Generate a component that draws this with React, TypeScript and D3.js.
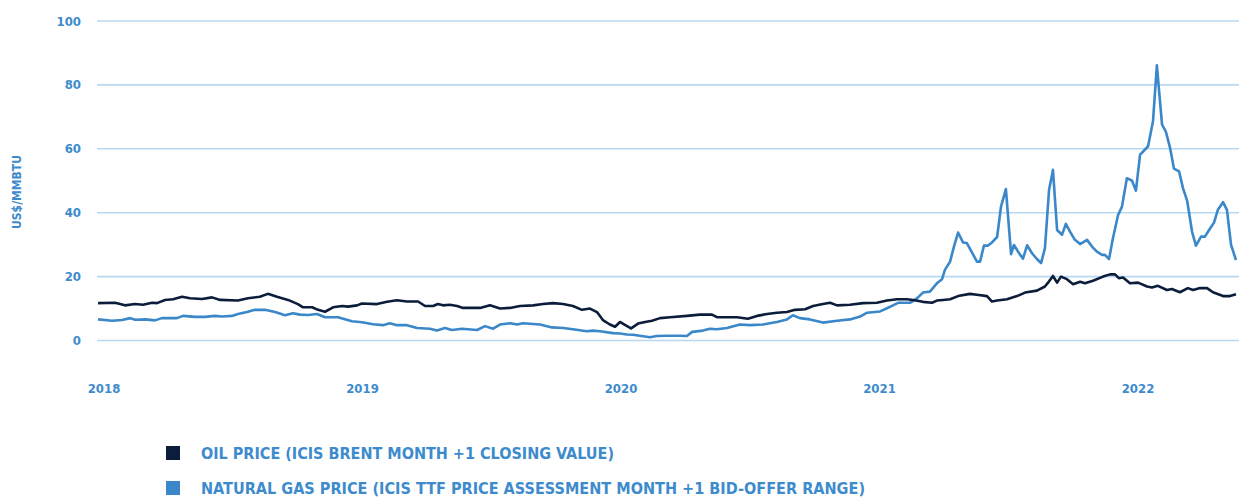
import React from "react";
import * as d3 from "d3";

// decimal years on x, US$/MMBTU on y
const oilDates = [
  2017.977, 2018.043, 2018.081, 2018.12, 2018.151, 2018.186, 2018.205, 2018.236, 2018.267, 2018.302,
  2018.333, 2018.379, 2018.418, 2018.449, 2018.518, 2018.557, 2018.603, 2018.634, 2018.669, 2018.712,
  2018.75, 2018.77, 2018.805, 2018.828, 2018.855, 2018.886, 2018.921, 2018.944, 2018.979, 2018.998,
  2019.056, 2019.095, 2019.133, 2019.172, 2019.215, 2019.242, 2019.273, 2019.292, 2019.311, 2019.338,
  2019.366, 2019.389, 2019.455, 2019.493, 2019.532, 2019.571, 2019.609, 2019.66, 2019.698, 2019.737,
  2019.776, 2019.814, 2019.849, 2019.88, 2019.907, 2019.93, 2019.957, 2019.977, 2019.996, 2020.015,
  2020.039, 2020.066, 2020.093, 2020.12, 2020.151, 2020.19, 2020.255, 2020.306, 2020.352, 2020.371,
  2020.449, 2020.491, 2020.526, 2020.565, 2020.603, 2020.642, 2020.673, 2020.712, 2020.743, 2020.781,
  2020.809, 2020.836, 2020.886, 2020.936, 2020.99, 2021.029, 2021.068, 2021.106, 2021.13, 2021.168,
  2021.203, 2021.222, 2021.246, 2021.273, 2021.304, 2021.35, 2021.377, 2021.416, 2021.435, 2021.455,
  2021.493, 2021.532, 2021.563, 2021.609, 2021.64, 2021.652, 2021.671, 2021.687, 2021.702, 2021.725,
  2021.749, 2021.776, 2021.795, 2021.826, 2021.865, 2021.892, 2021.911, 2021.926, 2021.942, 2021.969,
  2022.0, 2022.035, 2022.054, 2022.077, 2022.112, 2022.131, 2022.162, 2022.193, 2022.213, 2022.24,
  2022.267, 2022.29, 2022.329, 2022.356, 2022.379,
];
const oilPrices = [
  11.7, 11.8, 11.0, 11.4, 11.2, 11.8, 11.7, 12.7, 12.9, 13.7,
  13.2, 13.0, 13.5, 12.7, 12.5, 13.2, 13.7, 14.6, 13.7, 12.7,
  11.4, 10.4, 10.4, 9.6, 9.0, 10.4, 10.8, 10.6, 11.0, 11.6,
  11.4, 12.1, 12.6, 12.2, 12.2, 10.8, 10.8, 11.4, 11.0, 11.2,
  10.8, 10.2, 10.2, 11.0, 10.0, 10.2, 10.8, 11.0, 11.4, 11.7,
  11.4, 10.8, 9.6, 10.0, 8.9, 6.4, 5.0, 4.3, 5.8, 4.9,
  3.8, 5.3, 5.8, 6.2, 7.0, 7.3, 7.7, 8.1, 8.1, 7.3,
  7.3, 6.8, 7.7, 8.3, 8.7, 8.9, 9.6, 9.8, 10.8, 11.4,
  11.8, 11.0, 11.2, 11.7, 11.8, 12.5, 12.9, 12.9, 12.7, 12.1,
  11.8, 12.5, 12.7, 12.9, 13.9, 14.6, 14.3, 13.9, 12.2, 12.5,
  12.9, 13.9, 15.0, 15.6, 16.9, 18.1, 20.2, 18.1, 20.0, 19.2,
  17.6, 18.4, 17.9, 18.7, 20.0, 20.7, 20.7, 19.5, 19.7, 17.9,
  18.1, 16.9, 16.6, 17.1, 15.8, 16.1, 15.1, 16.4, 15.8, 16.4,
  16.4, 15.1, 13.9, 13.9, 14.5,
];

const gasDates = [
  2017.977, 2018.031, 2018.07, 2018.101, 2018.12, 2018.159, 2018.197, 2018.224, 2018.282, 2018.306,
  2018.352, 2018.391, 2018.429, 2018.456, 2018.495, 2018.518, 2018.553, 2018.584, 2018.623, 2018.662,
  2018.7, 2018.731, 2018.758, 2018.789, 2018.824, 2018.855, 2018.905, 2018.959, 2018.998, 2019.041,
  2019.079, 2019.106, 2019.133, 2019.172, 2019.211, 2019.261, 2019.288, 2019.319, 2019.346, 2019.385,
  2019.443, 2019.474, 2019.505, 2019.532, 2019.571, 2019.598, 2019.621, 2019.687, 2019.733, 2019.776,
  2019.814, 2019.868, 2019.892, 2019.919, 2019.969, 2019.996, 2020.023, 2020.046, 2020.112, 2020.139,
  2020.178, 2020.228, 2020.255, 2020.275, 2020.317, 2020.344, 2020.371, 2020.41, 2020.46, 2020.499,
  2020.549, 2020.603, 2020.642, 2020.665, 2020.692, 2020.731, 2020.781, 2020.836, 2020.886, 2020.925,
  2020.952, 2021.002, 2021.029, 2021.052, 2021.072, 2021.118, 2021.145, 2021.168, 2021.195, 2021.222,
  2021.242, 2021.253, 2021.273, 2021.288, 2021.304, 2021.323, 2021.338, 2021.358, 2021.377, 2021.389,
  2021.404, 2021.42, 2021.435, 2021.455, 2021.47, 2021.489, 2021.509, 2021.52, 2021.536, 2021.555,
  2021.571, 2021.59, 2021.609, 2021.625, 2021.64, 2021.656, 2021.671, 2021.687, 2021.706, 2021.721,
  2021.737, 2021.756, 2021.776, 2021.803, 2021.822, 2021.841, 2021.861, 2021.872, 2021.888, 2021.903,
  2021.923, 2021.938, 2021.957, 2021.977, 2021.992, 2022.008, 2022.023, 2022.039, 2022.058, 2022.073,
  2022.093, 2022.108, 2022.124, 2022.139, 2022.159, 2022.174, 2022.19, 2022.209, 2022.224, 2022.244,
  2022.259, 2022.275, 2022.294, 2022.309, 2022.329, 2022.344, 2022.36, 2022.379,
];
const gasPrices = [
  6.6, 6.2, 6.4, 7.0, 6.5, 6.6, 6.3, 7.0, 7.0, 7.7,
  7.4, 7.4, 7.7, 7.5, 7.7, 8.3, 8.9, 9.6, 9.6, 8.9,
  7.9, 8.5, 8.1, 8.0, 8.3, 7.3, 7.3, 6.0, 5.7, 5.1,
  4.8, 5.4, 4.8, 4.8, 3.9, 3.7, 3.1, 3.9, 3.3, 3.7,
  3.3, 4.5, 3.7, 5.0, 5.4, 5.0, 5.4, 5.0, 4.1, 3.9,
  3.5, 2.9, 3.1, 2.9, 2.3, 2.2, 1.9, 1.8, 1.0, 1.4,
  1.5, 1.5, 1.4, 2.7, 3.1, 3.7, 3.5, 3.9, 5.0, 4.8,
  5.0, 5.8, 6.6, 7.9, 7.0, 6.6, 5.6, 6.2, 6.6, 7.5,
  8.7, 9.1, 10.1, 11.0, 11.8, 11.8, 13.2, 15.0, 15.3, 17.9,
  19.2, 22.1, 24.7, 29.4, 33.8, 30.7, 30.5, 27.5, 24.7, 24.7,
  29.7, 29.7, 30.7, 32.4, 41.9, 47.4, 27.0, 29.9, 27.8, 25.6,
  29.8, 27.3, 25.5, 24.2, 28.9, 47.2, 53.4, 34.6, 33.1, 36.5,
  34.1, 31.5, 30.2, 31.5, 29.4, 27.8, 26.8, 26.8, 25.5, 32.0,
  39.3, 41.9, 50.8, 50.0, 46.9, 58.2, 59.4, 60.8, 68.6, 86.1,
  67.6, 65.3, 60.3, 53.8, 52.9, 47.7, 43.8, 34.1, 29.7, 32.5,
  32.5, 34.6, 36.9, 40.9, 43.3, 40.9, 29.9, 25.2,
];

const yTicks = [0, 20, 40, 60, 80, 100];
const xTicks = [2018, 2019, 2020, 2021, 2022];
const legendLabels = [
  "OIL PRICE (ICIS BRENT MONTH +1 CLOSING VALUE)",
  "NATURAL GAS PRICE (ICIS TTF PRICE ASSESSMENT MONTH +1 BID-OFFER RANGE)",
];

const OIL = "#0b1d3a";
const GAS = "#3a87c9";
const TEXT = "#3d8bcd";
const GRID = "#b8d8f1";
const FONT = "'DejaVu Sans Condensed', 'Liberation Sans Narrow', sans-serif";

const W = 1239;
const H = 498;

export default function App() {
  const x = d3.scaleLinear().domain([2018, 2022]).range([104, 1138]);
  const y = d3.scaleLinear().domain([0, 100]).range([340.5, 21]);

  const line = d3
    .line<[number, number]>()
    .x((d) => x(d[0]))
    .y((d) => y(d[1]));

  const oil = oilDates.map((d, i) => [d, oilPrices[i]] as [number, number]);
  const gas = gasDates.map((d, i) => [d, gasPrices[i]] as [number, number]);

  return (
    <svg
      width={W}
      height={H}
      style={{ position: "absolute", left: 0, top: 0, background: "#fff" }}
      fontFamily={FONT}
    >
      {yTicks.map((t) => (
        <g key={t}>
          <line x1={97} x2={W} y1={y(t)} y2={y(t)} stroke={GRID} strokeWidth={1.6} />
          <text
            x={81}
            y={y(t)}
            dy="0.35em"
            textAnchor="end"
            fontSize={13}
            fontWeight="bold"
            fill={TEXT}
          >
            {t}
          </text>
        </g>
      ))}

      <text
        transform={`translate(21,192) rotate(-90)`}
        textAnchor="middle"
        fontSize={12}
        fontWeight="bold"
        fill={TEXT}
      >
        US$/MMBTU
      </text>

      {xTicks.map((t) => (
        <text
          key={t}
          x={x(t)}
          y={388}
          dy="0.35em"
          textAnchor="middle"
          fontSize={13}
          fontWeight="bold"
          fill={TEXT}
        >
          {t}
        </text>
      ))}

      <path d={line(gas) ?? ""} fill="none" stroke={GAS} strokeWidth={2.6} strokeLinejoin="round" />
      <path d={line(oil) ?? ""} fill="none" stroke={OIL} strokeWidth={2.6} strokeLinejoin="round" />

      {legendLabels.map((label, i) => (
        <g key={label} transform={`translate(0,${453 + i * 35})`}>
          <rect x={166} y={-7} width={14} height={14} fill={i === 0 ? OIL : GAS} />
          <text
            x={201}
            y={0}
            dy="0.35em"
            fontSize={16}
            fontWeight="bold"
            fill={TEXT}
            textLength={i === 0 ? 413 : 664}
            lengthAdjust="spacingAndGlyphs"
          >
            {label}
          </text>
        </g>
      ))}
    </svg>
  );
}
